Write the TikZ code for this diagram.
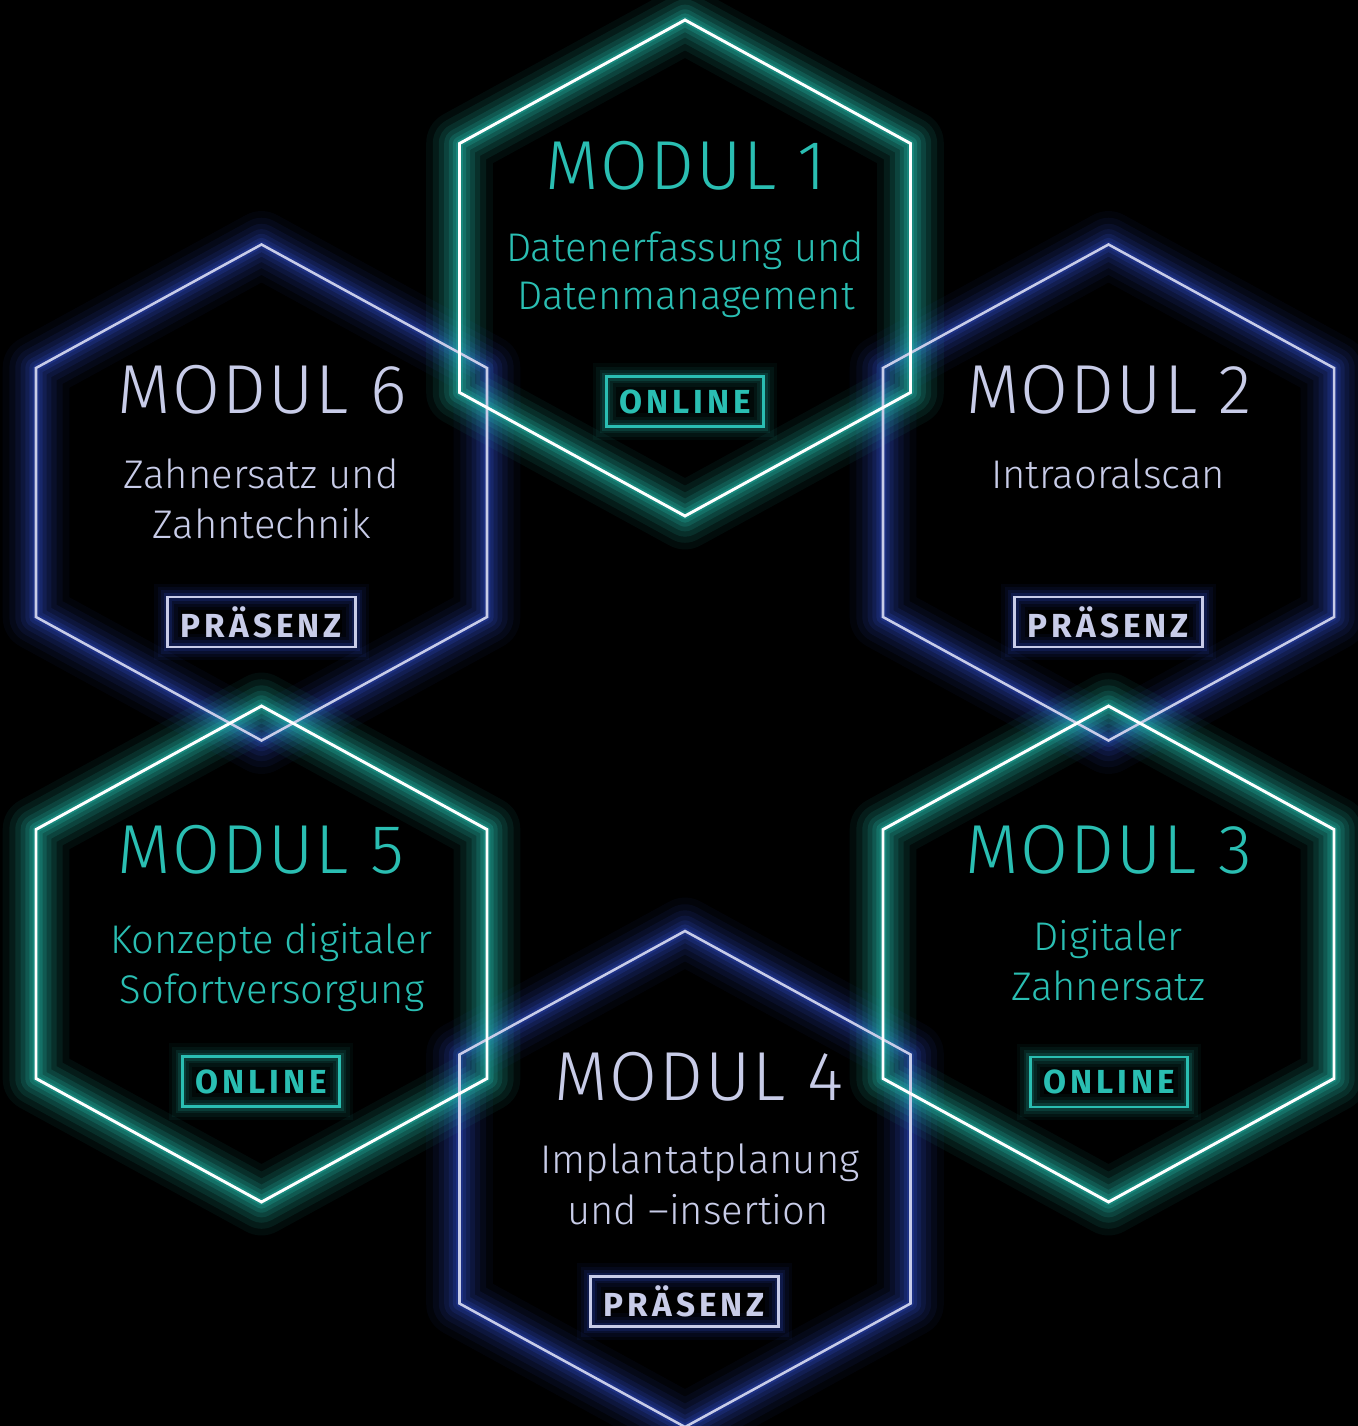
\documentclass[tikz,border=0pt]{standalone}
\usepackage{fontspec}
\setmainfont{Fira Sans}
\newfontfamily\lightfont{Fira Sans Light}
\newfontfamily\titlefont[LetterSpace=3]{Fira Sans Light}
\newfontfamily\badgefont[LetterSpace=12]{Fira Sans}
\definecolor{tealtxt}{RGB}{42,190,178}
\definecolor{tealglow}{RGB}{35,185,170}
\definecolor{lavender}{RGB}{200,204,232}
\definecolor{blueglow}{RGB}{50,80,215}
\newcommand\glowhex[4]{%
  \foreach \w/\o in {50/0.05,40/0.07,31/0.09,23/0.11,16/0.14,10/0.18,5/0.24}{%
    \draw[#1, line width=\w pt, opacity=#2*\o, line join=round, shift={(#3,#4)}]
      (0,-248) -- (225.5,-124.5) -- (225.5,124.5) -- (0,248) -- (-225.5,124.5) -- (-225.5,-124.5) -- cycle;}}
\newcommand\linehex[4]{%
  \draw[#1, line width=#2, line join=miter, shift={(#3,#4)}]
    (0,-248) -- (225.5,-124.5) -- (225.5,124.5) -- (0,248) -- (-225.5,124.5) -- (-225.5,-124.5) -- cycle;}
\tikzset{
  titletext/.style={anchor=base, inner sep=0pt, font=\titlefont\fontsize{52pt}{52pt}\selectfont},
  subtext/.style={anchor=base, inner sep=0pt, font=\lightfont\fontsize{30pt}{37.5pt}\selectfont},
  tealtitle/.style={titletext, text=tealtxt},
  bluetitle/.style={titletext, text=lavender},
  tealsub/.style={subtext, text=tealtxt},
  bluesub/.style={subtext, text=lavender},
  badge/.style={draw, line width=2.2pt, minimum height=37.5pt, inner sep=0pt,
    font=\badgefont\bfseries\fontsize{25pt}{25pt}\selectfont},
  onlinebadge/.style={badge, draw=tealtxt, text=tealtxt, minimum width=118pt,
    preaction={draw=tealglow, line width=20pt, opacity=0.05},
    preaction={draw=tealglow, line width=15pt, opacity=0.07},
    preaction={draw=tealglow, line width=10pt, opacity=0.10},
    preaction={draw=tealglow, line width=6pt, opacity=0.16}},
  praesenzbadge/.style={badge, draw=lavender, text=lavender, minimum width=141pt,
    preaction={draw=blueglow, line width=20pt, opacity=0.06},
    preaction={draw=blueglow, line width=15pt, opacity=0.08},
    preaction={draw=blueglow, line width=10pt, opacity=0.11},
    preaction={draw=blueglow, line width=6pt, opacity=0.16}},
}
\begin{document}
\begin{tikzpicture}[x=0.75pt,y=-0.75pt]
\fill[black] (0,0) rectangle (1358,1426);
\useasboundingbox (0,0) rectangle (1358,1426);
% glows
\glowhex{blueglow}{1.0}{261.5}{492.5}
\glowhex{blueglow}{1.0}{1108.5}{492.5}
\glowhex{blueglow}{1.0}{685}{1179}
\glowhex{tealglow}{1.35}{685}{268}
\glowhex{tealglow}{1.35}{261.5}{954}
\glowhex{tealglow}{1.35}{1108.5}{954}
% outlines
\linehex{lavender}{1.9pt}{261.5}{492.5}
\linehex{lavender}{1.9pt}{1108.5}{492.5}
\linehex{lavender}{1.9pt}{685}{1179}
\linehex{white}{2.2pt}{685}{268}
\linehex{white}{2.2pt}{261.5}{954}
\linehex{white}{2.2pt}{1108.5}{954}
% Modul 1
\node[tealtitle] (t1) at (686,190) {MODUL 1};
\node[tealsub] (s1a) at (685,262) {Datenerfassung und};
\node[tealsub] (s1b) at (686,310) {Datenmanagement};
\node[onlinebadge] (b1) at (685,401.5) {ONLINE};
% Modul 6
\node[bluetitle] (t6) at (262,413) {MODUL 6};
\node[bluesub] (s6a) at (261,488) {Zahnersatz und};
\node[bluesub] (s6b) at (262,538) {Zahntechnik};
\node[praesenzbadge] (b6) at (261.5,622) {PRÄSENZ};
% Modul 2
\node[bluetitle] (t2) at (1109,413) {MODUL 2};
\node[bluesub] (s2a) at (1108,488) {Intraoralscan};
\node[praesenzbadge] (b2) at (1108.5,622) {PRÄSENZ};
% Modul 5
\node[tealtitle] (t5) at (261,873) {MODUL 5};
\node[tealsub] (s5a) at (271,953) {Konzepte digitaler};
\node[tealsub] (s5b) at (272,1003) {Sofortversorgung};
\node[onlinebadge] (b5) at (261,1081.5) {ONLINE};
% Modul 3
\node[tealtitle] (t3) at (1109,873) {MODUL 3};
\node[tealsub] (s3a) at (1108,950) {Digitaler};
\node[tealsub] (s3b) at (1108,1000) {Zahnersatz};
\node[onlinebadge] (b3) at (1109,1082) {ONLINE};
% Modul 4
\node[bluetitle] (t4) at (699,1100) {MODUL 4};
\node[bluesub] (s4a) at (700,1173) {Implantatplanung};
\node[bluesub] (s4b) at (698,1224) {und –insertion};
\node[praesenzbadge] (b4) at (684.5,1301.5) {PRÄSENZ};
\end{tikzpicture}
\end{document}
